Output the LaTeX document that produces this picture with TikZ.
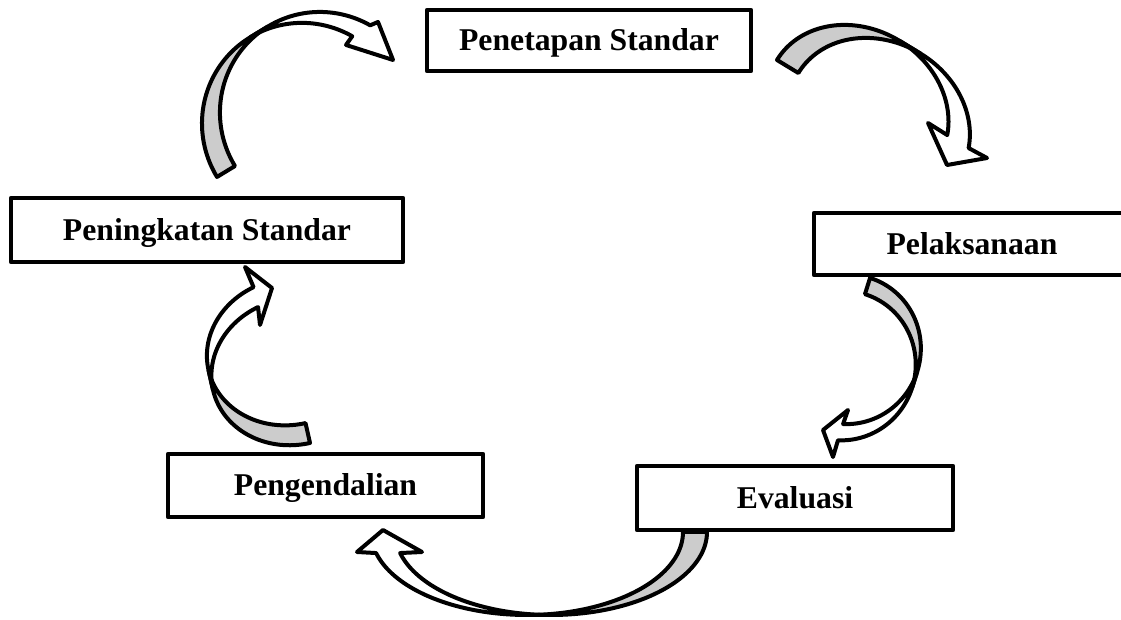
\documentclass[tikz,border=0pt]{standalone}
\usepackage{fontspec}
\setmainfont{Liberation Serif}
\definecolor{shade}{gray}{0.8}
\tikzset{
  stagebox/.style={draw, line width=4.5pt, line join=round, fill=white, inner sep=0pt,
    text height=26pt, text depth=5pt, font=\fontsize{31.7}{36}\selectfont\bfseries},
  arrowline/.style={draw=black, line width=4pt, line join=round}
}
% #1 shift, #2 cm entries, #3 a, #4 b, #5 t, #6 end angle, #7 prefix of head coordinates
\newcommand\cArrow[7]{%
\begin{scope}[shift={#1},cm={#2,(0,0)}]
 \filldraw[arrowline,fill=shade]
   plot[domain=90:180,samples=40,variable=\q] ({#3*cos(\q)},{#4*sin(\q)})
   -- plot[domain=180:90,samples=40,variable=\q] ({#3*cos(\q)},{#4*sin(\q)-#5}) -- cycle;
 \filldraw[arrowline,fill=white]
   plot[domain=180:#6,samples=40,variable=\q] ({#3*cos(\q)},{#4*sin(\q)})
   -- (#7i) -- (#7t) -- (#7o)
   -- plot[domain=#6:180,samples=40,variable=\q] ({#3*cos(\q)},{#4*sin(\q)-#5}) -- cycle;
\end{scope}}
\begin{document}
\begin{tikzpicture}[x=1pt,y=1pt]
\useasboundingbox (0,0) rectangle (1121,620);
% arrow head coordinates
\coordinate (ai) at (346,575); \coordinate (at) at (393,560); \coordinate (ao) at (378,598);
\coordinate (bi) at (928,497); \coordinate (bt) at (947,455); \coordinate (bo) at (987,462);
\coordinate (ci) at (848,210); \coordinate (ct) at (823,190); \coordinate (co) at (833,163);
\coordinate (di) at (422,68);  \coordinate (dt) at (383,90);  \coordinate (do) at (357,68);
\coordinate (ei) at (260,295); \coordinate (et) at (272,332); \coordinate (eo) at (245,353);
% curved arrows
\cArrow{(303.1,495.4)}{0.52,-0.855,-0.855,-0.52}{102}{100.7}{21}{240.7}{a}
\cArrow{(857.7,510.9)}{-0.52,-0.855,-0.855,0.52}{80}{94.4}{25}{252.3}{b}
\cArrow{(847.6,270.6)}{-0.955,0.3,0.3,0.955}{73}{74.8}{17}{255.7}{c}
\cArrow{(551,88)}{0,1,1,0}{83}{156}{24}{255.3}{d}
\cArrow{(293.9,248.4)}{0.975,0.22,0.22,-0.975}{83}{73.2}{20.4}{255.5}{e}
% stages
\node[stagebox, minimum width=324pt, minimum height=61pt] (tetap) at (589,579.5) {Penetapan Standar};
\node[stagebox, minimum width=316pt, minimum height=62pt] (laksana) at (972,376) {Pelaksanaan};
\node[stagebox, minimum width=316pt, minimum height=64pt] (eval) at (795,122) {Evaluasi};
\node[stagebox, minimum width=315pt, minimum height=63pt] (kendali) at (325.5,134.5) {Pengendalian};
\node[stagebox, minimum width=392pt, minimum height=64pt] (tingkat) at (207,390) {Peningkatan Standar};
\end{tikzpicture}
\end{document}
